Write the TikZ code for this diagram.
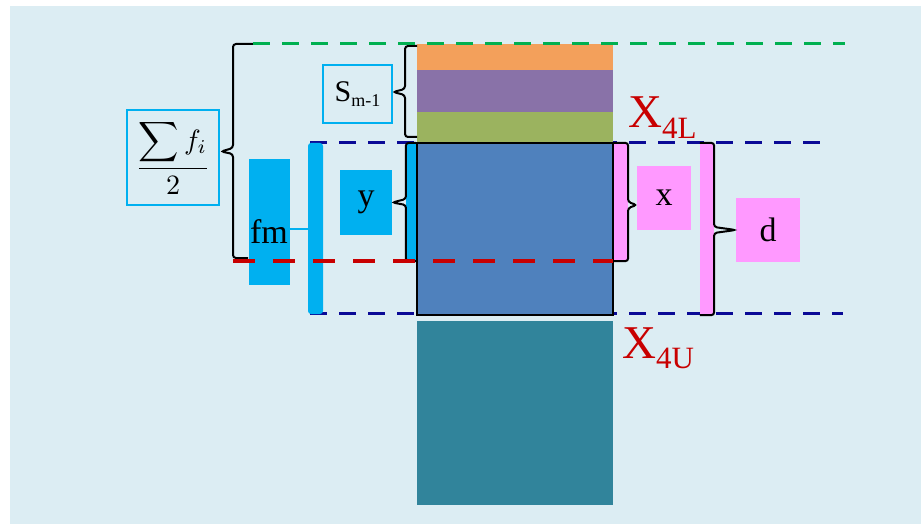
\documentclass[tikz,border=0pt]{standalone}
\usepackage{graphicx}
\usepackage{fontspec}
\setmainfont{Liberation Serif}
\usetikzlibrary{positioning,calc}

\definecolor{bgblue}{HTML}{DCEDF3}
\definecolor{layorange}{HTML}{F3A05B}
\definecolor{laypurple}{HTML}{8972A8}
\definecolor{laygreen}{HTML}{9BB35F}
\definecolor{layblue}{HTML}{4F81BD}
\definecolor{layteal}{HTML}{31849B}
\definecolor{boxcyan}{HTML}{00B0F0}
\definecolor{boxpink}{HTML}{FF99FF}
\definecolor{levelred}{HTML}{C80000}
\definecolor{levelnavy}{HTML}{0A0A96}
\definecolor{levelgreen}{HTML}{00B050}

\tikzset{
  cyanframe/.style={draw=boxcyan, line width=2pt, inner sep=0pt},
  cyanfill/.style={fill=boxcyan, inner sep=0pt},
  pinkfill/.style={fill=boxpink, inner sep=0pt},
  bigtext/.style={font=\fontsize{34}{34}\selectfont},
  bracepath/.style={draw=black, line width=2pt, rounded corners=3pt},
  levelline/.style={line width=3pt, dash pattern=on 17pt off 12pt},
}

\begin{document}
\begin{tikzpicture}[x=1pt, y=-1pt]
    \useasboundingbox (0,0) rectangle (921,524);
    \fill[bgblue] (10,6) rectangle (921,524);

    % navy level lines
    \draw[levelline, levelnavy] (310,143) -- (830,143);
    \draw[levelline, levelnavy] (310,313) -- (843,313);

    % layers
    \fill[layorange] (417,44) rectangle (613,70);
    \fill[laypurple] (417,70) rectangle (613,112);
    \fill[laygreen] (417,112) rectangle (613,143);
    \draw[line width=2pt, fill=layblue] (417,143) rectangle (613,315);
    \fill[layteal] (417,321) rectangle (613,505);

    % strips beside the layers
    \node[cyanfill, rounded corners=3pt, minimum width=15pt, minimum height=171pt] (fmbar) at (315.5,228.5) {};
    \node[cyanfill, minimum width=10pt, minimum height=118pt] (ystrip) at (411,202) {};
    \node[pinkfill, minimum width=14pt, minimum height=118pt] (xstrip) at (621,202) {};
    \node[pinkfill, minimum width=14pt, minimum height=172pt] (dstrip) at (707,229) {};

    % boxes
    \node[cyanframe, minimum width=92pt, minimum height=95pt] (sumbox) at (173,157.5) {\scalebox{2.8}{$\displaystyle\frac{\displaystyle\sum f_{i}}{2}$}};
    \node[cyanframe, minimum width=69pt, minimum height=58pt] (smbox) at (357.5,94) {\fontsize{30}{30}\selectfont S\raisebox{-5pt}{\fontsize{18}{18}\selectfont m-1}};
    \node[cyanfill, minimum width=41pt, minimum height=126pt, label={[bigtext, yshift=-10pt]center:fm}] (fmbox) at (269,222) {};
    \node[cyanfill, bigtext, minimum width=52pt, minimum height=65pt] (ybox) at (366,202.5) {y};
    \node[pinkfill, bigtext, minimum width=54pt, minimum height=64pt] (xbox) at (664,198) {x};
    \node[pinkfill, bigtext, minimum width=64pt, minimum height=64pt] (dbox) at (768,230) {d};

    % level labels
    \node[anchor=base west, inner sep=0pt, text=levelred, font=\fontsize{47}{47}\selectfont] (xlow) at (628,128) {X\raisebox{-11pt}{\fontsize{31}{31}\selectfont 4L}};
    \node[anchor=base west, inner sep=0pt, text=levelred, font=\fontsize{47}{47}\selectfont] (xup) at (622,358) {X\raisebox{-10pt}{\fontsize{31}{31}\selectfont 4U}};

    % braces
    \draw[bracepath] (253,44) -- (233,44) -- (233,148) -- ($(sumbox.east)+(1,-6)$) -- (233,154) -- (233,258) -- (248,258);
    \draw[bracepath] (417,46) -- (405,46) -- (405,89) -- ($(smbox.east)+(0,-2)$) -- (405,95) -- (405,137) -- (417,137);
    \draw[bracepath] (ystrip.north east) -- (ystrip.north west) -- (406,199) -- (ybox.east) -- (406,205) -- (ystrip.south west) -- (ystrip.south east);
    \draw[bracepath] (xstrip.north west) -- (xstrip.north east) -- (628,202) -- ($(xbox.west)+(0,7)$) -- (628,208) -- (xstrip.south east) -- (xstrip.south west);
    \draw[bracepath] (dstrip.north west) -- (dstrip.north east) -- (714,227) -- (dbox.west) -- (714,233) -- (dstrip.south east) -- (dstrip.south west);
    \draw[boxcyan, line width=2pt] (fmbox.east |- fmbar.west) -- (fmbar.west);

    % red and green level lines
    \draw[levelline, levelred, line width=4pt, dash pattern=on 22pt off 18pt] (233,261) -- (613,261);
    \draw[levelline, levelgreen] (253,44) -- (845,44);
\end{tikzpicture}
\end{document}
